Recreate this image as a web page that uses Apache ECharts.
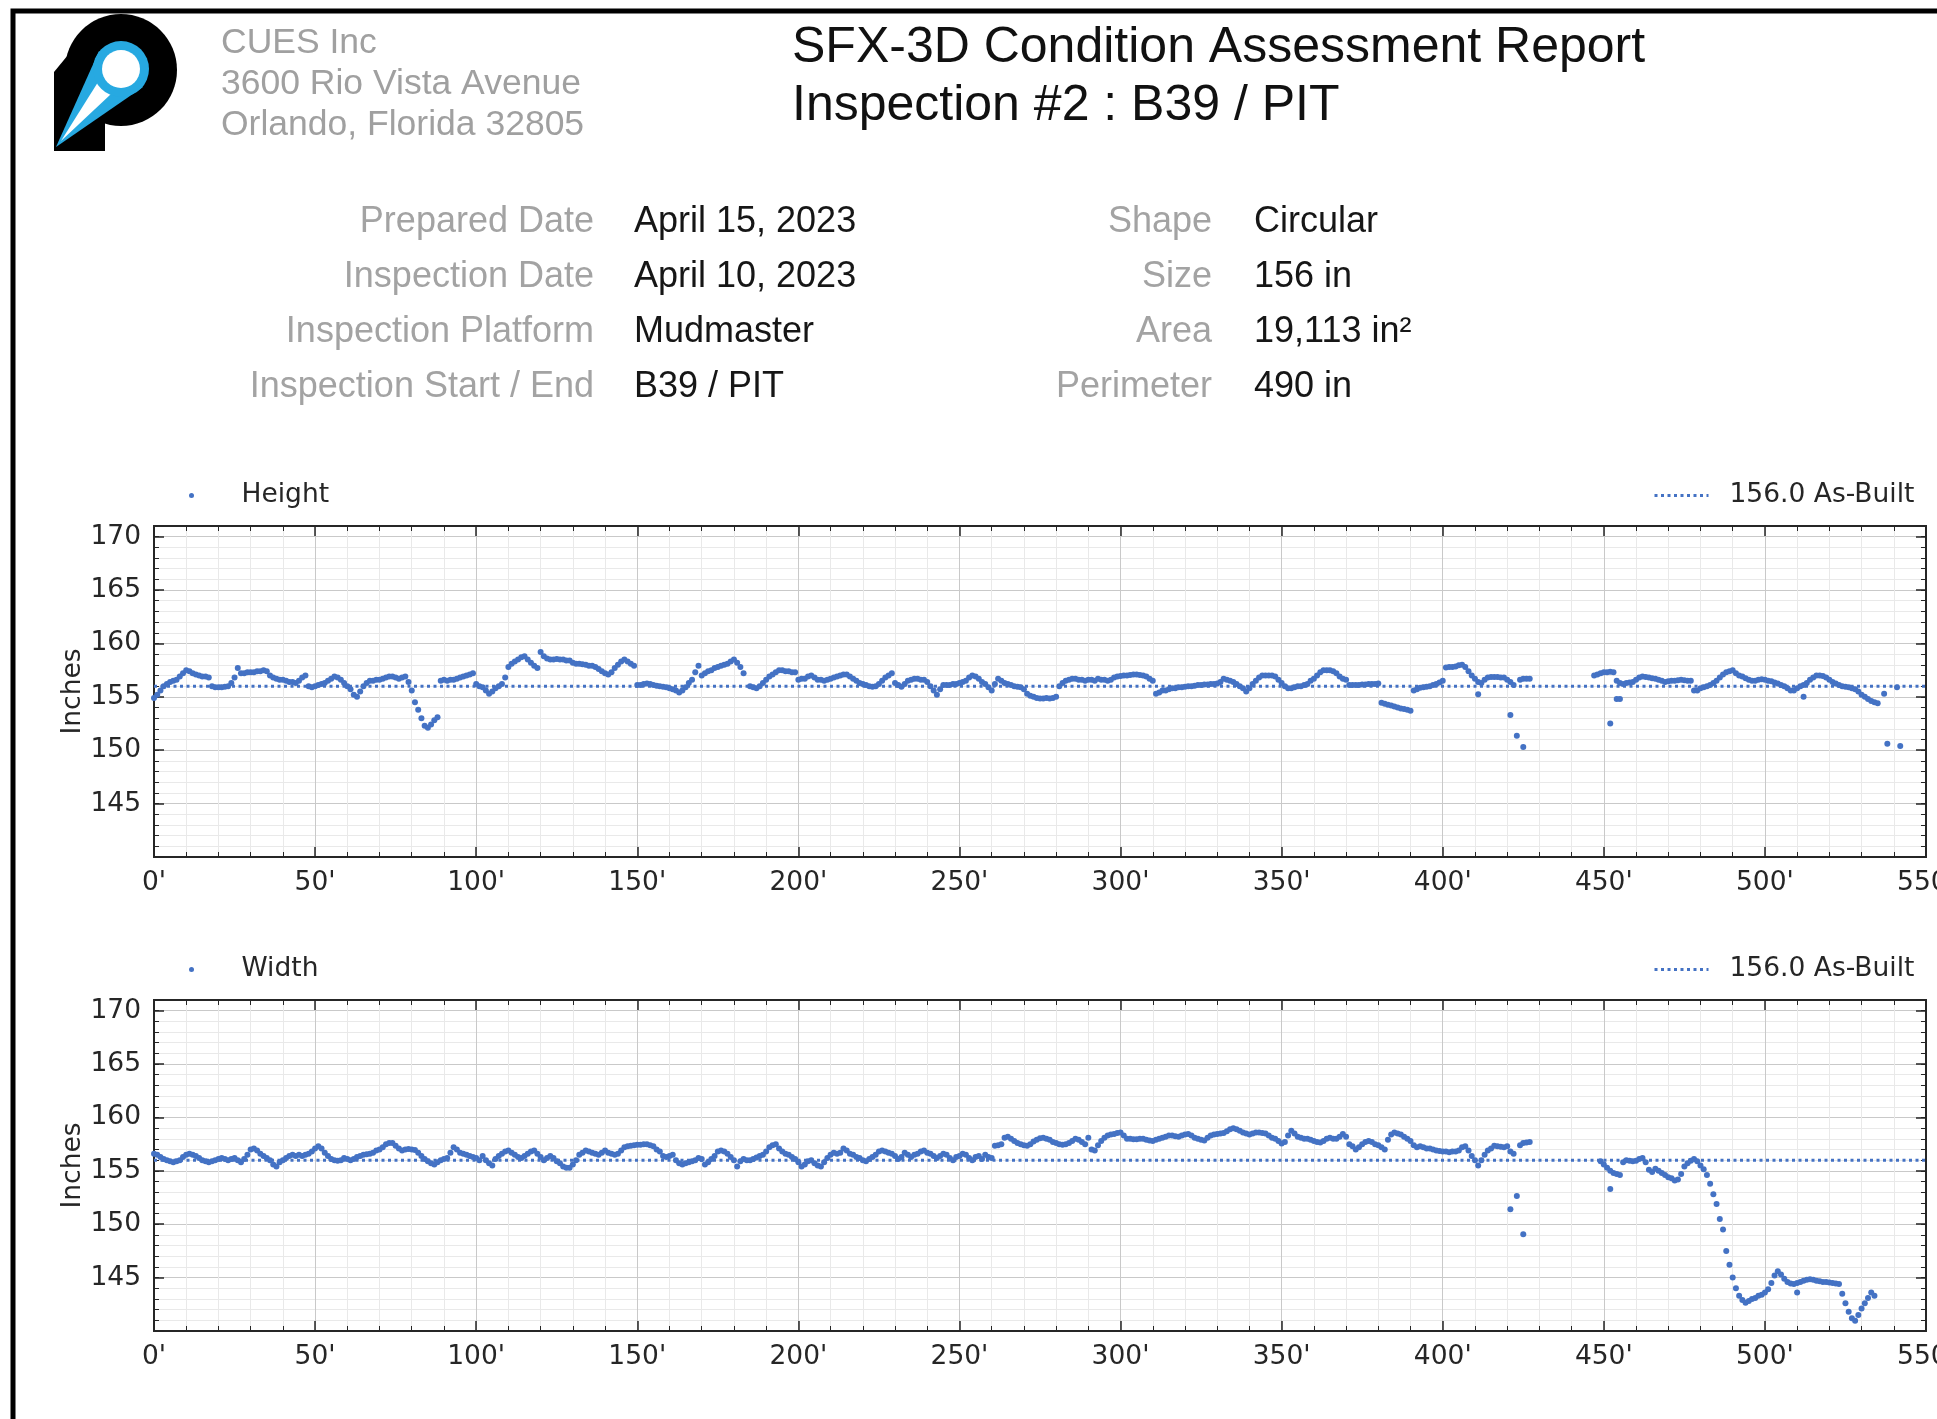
<!DOCTYPE html>
<html>
<head>
<meta charset="utf-8">
<title>SFX-3D Condition Assessment Report</title>
<script src="https://cdn.jsdelivr.net/npm/echarts@6/dist/echarts.min.js"></script>
<style>
  html, body { margin: 0; padding: 0; background: #ffffff; }
  #report { width: 1937px; height: 1419px; }
</style>
</head>
<body>
<div id="report"></div>
<script>
// ---------------- Report header text ----------------
const companyLines = ['CUES Inc', '3600 Rio Vista Avenue', 'Orlando, Florida 32805'];
const titleLines = ['SFX-3D Condition Assessment Report', 'Inspection #2 : B39 / PIT'];
const infoLabelsLeft = ['Prepared Date', 'Inspection Date', 'Inspection Platform', 'Inspection Start / End'];
const infoValuesLeft = ['April 15, 2023', 'April 10, 2023', 'Mudmaster', 'B39 / PIT'];
const infoLabelsRight = ['Shape', 'Size', 'Area', 'Perimeter'];
const infoValuesRight = ['Circular', '156 in', '19,113 in\u00B2', '490 in'];

// ---------------- Axis settings ----------------
const stationMin = 0, stationMax = 550, stationStep = 50;   // feet
const inchMin = 140, inchMax = 171, inchStep = 5;            // inches
const asBuiltSize = 156.0;
const asBuiltName = asBuiltSize.toFixed(1) + ' As-Built';
const seriesNames = ['Height', 'Width'];

// ---------------- Measurements (index = station in feet, null = no reading) ----------------
const heightValues = [
  154.9, 155.2, 155.6, 156.0, 156.2, 156.4, 156.5, 156.6, 156.9, 157.2,
  157.5, 157.4, 157.2, 157.1, 157.0, 156.9, 156.9, 156.8, 156.0, 155.9,
  155.9, 155.9, 155.95, 156.0, 156.3, 156.8, 157.7, 157.2, 157.2, 157.3,
  157.3, 157.3, 157.4, 157.4, 157.5, 157.4, 157.0, 156.8, 156.7, 156.6,
  156.6, 156.5, 156.4, 156.4, 156.3, 156.5, 156.8, 157.0, 156.0, 155.9,
  156.0, 156.1, 156.2, 156.3, 156.5, 156.7, 156.9, 156.8, 156.6, 156.3,
  156.0, 155.7, 155.2, 155.0, 155.5, 156.0, 156.3, 156.5, 156.5, 156.6,
  156.6, 156.7, 156.8, 156.9, 156.9, 156.8, 156.7, 156.8, 156.9, 156.4,
  155.6, 154.5, 153.8, 153.0, 152.3, 152.1, 152.4, 152.8, 153.1, 156.5,
  156.6, 156.5, 156.6, 156.6, 156.7, 156.8, 156.9, 157.0, 157.1, 157.2,
  156.2, 156.0, 155.9, 155.6, 155.3, 155.5, 155.8, 156.0, 156.2, 156.8,
  157.8, 158.1, 158.3, 158.5, 158.7, 158.8, 158.5, 158.2, 157.9, 157.7,
  159.2, 158.8, 158.6, 158.5, 158.5, 158.55, 158.5, 158.5, 158.4, 158.4,
  158.2, 158.1, 158.1, 158.05, 158.0, 157.9, 157.9, 157.8, 157.6, 157.4,
  157.2, 157.1, 157.3, 157.7, 158.0, 158.3, 158.5, 158.3, 158.1, 157.9,
  156.1, 156.1, 156.2, 156.25, 156.2, 156.1, 156.05, 156.0, 155.95, 155.9,
  155.8, 155.7, 155.6, 155.4, 155.6, 155.9, 156.3, 156.6, 157.3, 157.9,
  157.0, 157.2, 157.4, 157.5, 157.7, 157.8, 157.9, 158.0, 158.1, 158.3,
  158.5, 158.2, 157.8, 157.2, null, 156.0, 155.9, 155.8, 156.0, 156.3,
  156.6, 156.9, 157.1, 157.3, 157.5, 157.5, 157.4, 157.4, 157.3, 157.3,
  156.6, 156.7, 156.7, 156.9, 157.0, 156.8, 156.6, 156.6, 156.5, 156.6,
  156.7, 156.8, 156.9, 157.0, 157.1, 157.1, 156.9, 156.7, 156.5, 156.3,
  156.2, 156.1, 156.0, 155.95, 156.0, 156.2, 156.5, 156.8, 157.0, 157.2,
  156.3, 156.1, 155.95, 156.2, 156.5, 156.6, 156.7, 156.7, 156.6, 156.6,
  156.4, 156.0, 155.6, 155.2, 155.7, 156.1, 156.1, 156.1, 156.2, 156.2,
  156.3, 156.4, 156.5, 156.8, 157.0, 156.9, 156.7, 156.4, 156.2, 155.9,
  155.6, 156.2, 156.7, 156.5, 156.3, 156.2, 156.1, 156.0, 155.95, 155.9,
  155.7, 155.3, 155.1, 155.0, 154.9, 154.85, 154.85, 154.9, 154.85, 154.9,
  155.0, 156.0, 156.3, 156.5, 156.6, 156.7, 156.7, 156.6, 156.6, 156.5,
  156.6, 156.6, 156.5, 156.7, 156.6, 156.6, 156.5, 156.6, 156.8, 156.9,
  156.95, 157.0, 157.0, 157.05, 157.1, 157.1, 157.05, 157.0, 156.9, 156.7,
  156.5, 155.3, 155.4, 155.6, 155.6, 155.7, 155.8, 155.8, 155.9, 155.9,
  155.95, 156.0, 156.0, 156.05, 156.1, 156.1, 156.15, 156.15, 156.2, 156.2,
  156.25, 156.4, 156.7, 156.6, 156.5, 156.4, 156.2, 156.0, 155.8, 155.5,
  155.8, 156.2, 156.5, 156.8, 157.0, 157.0, 157.0, 157.0, 156.9, 156.6,
  156.3, 156.0, 155.8, 155.8, 155.9, 156.0, 156.0, 156.1, 156.2, 156.5,
  156.7, 157.0, 157.3, 157.5, 157.5, 157.5, 157.4, 157.2, 156.9, 156.7,
  156.6, 156.1, 156.1, 156.1, 156.1, 156.15, 156.15, 156.2, 156.2, 156.2,
  156.25, 154.45, 154.35, 154.25, 154.2, 154.1, 154.0, 153.9, 153.85, 153.8,
  153.7, 155.6, 155.7, 155.85, 155.9, 155.95, 156.0, 156.1, 156.2, 156.35,
  156.5, 157.75, 157.8, 157.8, 157.85, 157.95, 158.0, 157.8, 157.4, 157.0,
  156.7, 156.4, 156.3, 156.6, 156.8, 156.85, 156.85, 156.85, 156.8, 156.8,
  156.6, 156.4, 156.1, null, 156.6, 156.7, 156.7, 156.7, null, null,
  null, null, null, null, null, null, null, null, null, null,
  null, null, null, null, null, null, null, 157.0, 157.1, 157.2,
  157.3, 157.3, 157.35, 157.3, 156.5, 156.3, 156.2, 156.3, 156.35, 156.4,
  156.6, 156.8, 156.9, 156.85, 156.8, 156.75, 156.7, 156.6, 156.5, 156.4,
  156.45, 156.5, 156.5, 156.55, 156.6, 156.55, 156.5, 156.5, 155.6, 155.6,
  155.8, 155.9, 156.0, 156.1, 156.3, 156.5, 156.8, 157.1, 157.3, 157.4,
  157.5, 157.2, 157.0, 156.9, 156.75, 156.6, 156.5, 156.5, 156.6, 156.65,
  156.6, 156.5, 156.45, 156.35, 156.25, 156.1, 156.0, 155.8, 155.6, 155.6,
  155.8, 156.0, 156.1, 156.3, 156.6, 156.8, 157.0, 157.0, 156.95, 156.8,
  156.6, 156.4, 156.25, 156.1, 156.0, 155.95, 155.9, 155.8, 155.7, 155.5,
  155.2, 155.0, 154.8, 154.6, 154.5, 154.4
];
// Isolated readings that share a station with the main trace: [station ft, inches]
const heightStray = [
  [411, 155.25], [421, 153.3], [423, 151.35], [425, 150.3], [452, 152.5], [454, 154.8],
  [455, 154.8], [512, 155.0], [537, 155.3], [538, 150.6], [541, 155.9], [542, 150.4]
];

const widthValues = [
  156.6, 156.5, 156.3, 156.1, 156.0, 155.9, 155.8, 155.9, 156.0, 156.3,
  156.5, 156.6, 156.5, 156.4, 156.2, 156.0, 155.9, 155.8, 155.9, 156.0,
  156.1, 156.2, 156.1, 156.0, 156.1, 156.2, 156.0, 155.8, 156.1, 156.5,
  157.0, 157.1, 156.9, 156.6, 156.4, 156.2, 156.0, 155.6, 155.4, 155.8,
  156.0, 156.2, 156.4, 156.5, 156.4, 156.5, 156.4, 156.5, 156.6, 156.8,
  157.1, 157.3, 157.1, 156.7, 156.4, 156.1, 156.0, 155.95, 156.0, 156.2,
  156.1, 156.0, 156.1, 156.3, 156.4, 156.5, 156.55, 156.6, 156.7, 156.9,
  157.0, 157.2, 157.5, 157.6, 157.6, 157.35, 157.1, 156.9, 157.0, 157.05,
  157.0, 156.95, 156.7, 156.4, 156.1, 155.9, 155.7, 155.6, 155.8, 156.0,
  156.1, 156.2, 156.7, 157.2, 157.0, 156.7, 156.6, 156.5, 156.4, 156.3,
  156.2, 156.0, 156.4, 156.0, 155.7, 155.5, 156.1, 156.4, 156.6, 156.8,
  156.9, 156.7, 156.5, 156.3, 156.2, 156.4, 156.6, 156.8, 156.9, 156.6,
  156.3, 156.0, 156.2, 156.4, 156.2, 155.9, 155.7, 155.4, 155.3, 155.3,
  155.6, 156.0, 156.5, 156.7, 156.9, 156.8, 156.7, 156.6, 156.5, 156.7,
  156.9, 156.7, 156.6, 156.5, 156.6, 156.9, 157.2, 157.3, 157.35, 157.4,
  157.45, 157.45, 157.5, 157.5, 157.4, 157.3, 157.0, 156.8, 156.4, 156.3,
  156.4, 156.5, 156.0, 155.7, 155.6, 155.7, 155.8, 155.9, 156.0, 156.2,
  156.1, 155.6, 155.8, 156.1, 156.4, 156.8, 156.9, 156.8, 156.6, 156.3,
  156.0, 155.4, 155.9, 156.1, 156.0, 156.0, 156.1, 156.25, 156.4, 156.5,
  156.8, 157.2, 157.4, 157.5, 157.1, 156.8, 156.6, 156.5, 156.3, 156.1,
  155.8, 155.4, 155.6, 155.9, 156.0, 155.7, 155.5, 155.4, 155.8, 156.2,
  156.5, 156.7, 156.6, 156.7, 157.1, 156.9, 156.6, 156.5, 156.3, 156.2,
  156.0, 155.9, 156.1, 156.3, 156.5, 156.8, 156.9, 156.8, 156.7, 156.6,
  156.4, 156.1, 156.3, 156.7, 156.5, 156.3, 156.5, 156.6, 156.8, 156.9,
  156.7, 156.6, 156.4, 156.2, 156.4, 156.6, 156.5, 156.2, 156.0, 156.3,
  156.4, 156.6, 156.5, 156.2, 156.0, 156.3, 156.4, 156.1, 156.5, 156.3,
  156.2, 157.35, 157.4, 157.5, 158.1, 158.2, 158.0, 157.8, 157.6, 157.5,
  157.4, 157.35, 157.5, 157.75, 157.9, 158.05, 158.1, 158.0, 157.9, 157.7,
  157.6, 157.5, 157.45, 157.5, 157.6, 157.8, 158.0, 157.9, 157.7, 157.5,
  158.1, 157.0, 156.9, 157.4, 157.8, 158.1, 158.3, 158.4, 158.45, 158.55,
  158.6, 158.3, 158.0, 158.0, 157.95, 157.95, 158.0, 158.0, 157.9, 157.85,
  157.8, 157.9, 158.0, 158.1, 158.2, 158.3, 158.3, 158.25, 158.2, 158.3,
  158.4, 158.45, 158.3, 158.1, 158.0, 157.9, 157.85, 158.1, 158.3, 158.4,
  158.45, 158.5, 158.55, 158.7, 158.9, 159.0, 158.9, 158.75, 158.6, 158.5,
  158.4, 158.5, 158.6, 158.6, 158.55, 158.5, 158.3, 158.1, 158.0, 157.8,
  157.55, 157.7, 158.3, 158.75, 158.5, 158.2, 158.1, 158.0, 158.0, 157.9,
  157.8, 157.7, 157.65, 157.8, 158.0, 158.1, 158.0, 158.0, 158.2, 158.45,
  158.2, 157.5, 157.3, 157.0, 157.2, 157.5, 157.7, 157.8, 157.7, 157.5,
  157.4, 157.2, 157.0, 157.9, 158.4, 158.6, 158.5, 158.4, 158.2, 158.0,
  157.8, 157.4, 157.2, 157.3, 157.2, 157.1, 157.1, 157.0, 156.9, 156.85,
  156.8, 156.8, 156.75, 156.8, 156.8, 156.9, 157.2, 157.3, 156.9, 156.4,
  156.0, 155.5, 156.0, 156.5, 156.9, 157.1, 157.35, 157.3, 157.25, 157.2,
  157.3, 156.8, 156.6, null, 157.4, 157.6, 157.65, 157.7, null, null,
  null, null, null, null, null, null, null, null, null, null,
  null, null, null, null, null, null, null, null, null, 155.9,
  155.6, 155.3, 155.0, 154.8, 154.7, 154.6, 155.8, 156.0, 155.95, 155.9,
  155.95, 156.1, 156.2, 155.8, 155.1, 154.9, 155.2, 155.0, 154.8, 154.6,
  154.4, 154.3, 154.1, 154.2, 154.7, 155.4, 155.7, 155.95, 156.1, 155.9,
  155.5, 155.15, 154.6, 153.8, 152.8, 151.9, 150.5, 149.5, 147.5, 146.2,
  145.0, 144.0, 143.3, 142.9, 142.65, 142.8, 143.0, 143.1, 143.3, 143.4,
  143.6, 143.9, 144.5, 145.2, 145.6, 145.3, 144.9, 144.6, 144.45, 144.4,
  144.5, 144.6, 144.7, 144.8, 144.85, 144.8, 144.7, 144.65, 144.6, 144.6,
  144.55, 144.5, 144.45, 144.4, 143.5, 142.6, 141.8, 141.2, 140.95, 141.5,
  142.1, 142.6, 143.1, 143.6, 143.3
];
const widthStray = [
  [421, 151.4], [423, 152.65], [425, 149.05], [452, 153.3], [510, 143.6]
];

// ---------------- Styling ----------------
const MARK_BLUE = '#4472c4';
const LOGO_BLUE = '#27a9e1';
const AXIS_DARK = '#262626';
const GRID_MAJOR = '#c9c9c9';
const GRID_MINOR = '#e9e9e9';
const CHART_FONT = '"DejaVu Sans", Verdana, sans-serif';
const CHART_SIZE = 26.5;
const HEAD_FONT = '"Liberation Sans", Arial, Helvetica, sans-serif';

const panelTops = [526, 1000];
const panelHeight = 331;

function toPoints(values, stray) {
  const pts = [];
  values.forEach((v, ft) => { if (v !== null) pts.push([ft, v]); });
  stray.forEach(p => pts.push(p));
  return pts;
}

function inchLabel(v) {
  return (v % inchStep === 0 && v > inchMin && v < inchMax) ? String(v) : '';
}

const frameLine = { show: true, onZero: false, lineStyle: { color: AXIS_DARK, width: 2 } };
const chartText = { fontSize: CHART_SIZE, color: AXIS_DARK, fontFamily: CHART_FONT };

const grids = [], xAxes = [], yAxes = [], series = [], legends = [];

panelTops.forEach((top, g) => {
  grids.push({ left: 154, right: 11, top: top, height: panelHeight,
    containLabel: false, outerBoundsMode: 'none' });

  // bottom station axis (labels, grid lines) and top mirror (ticks only)
  xAxes.push({
    type: 'value', gridIndex: g, position: 'bottom',
    min: stationMin, max: stationMax, interval: stationStep,
    axisLine: frameLine,
    axisTick: { show: true, inside: true, length: 10, lineStyle: { color: AXIS_DARK, width: 1.5 } },
    minorTick: { show: true, splitNumber: 5, length: 5, lineStyle: { color: AXIS_DARK, width: 1 } },
    axisLabel: Object.assign({ formatter: v => v + "'", margin: 13 }, chartText),
    splitLine: { show: true, lineStyle: { color: GRID_MAJOR, width: 1 } },
    minorSplitLine: { show: true, lineStyle: { color: GRID_MINOR, width: 1 } }
  });
  xAxes.push({
    type: 'value', gridIndex: g, position: 'top',
    min: stationMin, max: stationMax, interval: stationStep,
    axisLine: frameLine,
    axisTick: { show: true, inside: true, length: 10, lineStyle: { color: AXIS_DARK, width: 1.5 } },
    minorTick: { show: true, splitNumber: 5, length: 5, lineStyle: { color: AXIS_DARK, width: 1 } },
    axisLabel: { show: false },
    splitLine: { show: false }
  });

  // left: 1-inch axis carrying grid lines + labels, 5-inch axis for long ticks; right: mirrors
  ['left', 'right'].forEach(side => {
    yAxes.push({
      type: 'value', gridIndex: g, position: side,
      min: inchMin, max: inchMax, interval: 1,
      name: side === 'left' ? 'Inches' : '',
      nameLocation: 'middle', nameGap: 67, nameMoveOverlap: false,
      nameTextStyle: chartText,
      axisLine: frameLine,
      axisTick: { show: true, inside: true, length: 5, lineStyle: { color: AXIS_DARK, width: 1 } },
      axisLabel: side === 'left'
        ? Object.assign({ formatter: inchLabel, margin: 13 }, chartText)
        : { show: false },
      splitLine: side === 'left'
        ? { show: true, lineStyle: { color: [GRID_MAJOR, GRID_MINOR, GRID_MINOR, GRID_MINOR, GRID_MINOR], width: 1 } }
        : { show: false }
    });
    yAxes.push({
      type: 'value', gridIndex: g, position: side,
      min: inchMin, max: inchMax, interval: inchStep,
      axisLine: frameLine,
      axisTick: { show: true, inside: true, length: 10, lineStyle: { color: AXIS_DARK, width: 1.5 } },
      axisLabel: { show: false },
      splitLine: { show: false }
    });
  });

  const values = g === 0 ? heightValues : widthValues;
  const stray = g === 0 ? heightStray : widthStray;

  series.push({
    name: seriesNames[g], type: 'scatter', xAxisIndex: 2 * g, yAxisIndex: 4 * g,
    data: toPoints(values, stray),
    symbol: 'circle', symbolSize: 6,
    itemStyle: { color: MARK_BLUE, opacity: 1 },
    z: 4, silent: true
  });
  series.push({
    name: asBuiltName, type: 'line', xAxisIndex: 2 * g, yAxisIndex: 4 * g,
    data: [[stationMin, asBuiltSize], [stationMax, asBuiltSize]],
    symbol: 'none',
    lineStyle: { color: MARK_BLUE, width: 3, type: [3, 3.5] },
    itemStyle: { color: MARK_BLUE },
    z: 3, silent: true
  });

  const legendTop = top - 49;
  legends.push({
    data: [seriesNames[g]], left: 184, top: legendTop,
    icon: 'circle', itemWidth: 90, itemHeight: 5,
    selectedMode: false,
    textStyle: chartText
  });
  legends.push({
    data: [asBuiltName], left: 1648, top: legendTop,
    itemWidth: 54, itemHeight: 14,
    selectedMode: false,
    itemStyle: { opacity: 0 },
    lineStyle: { color: MARK_BLUE, width: 3, type: [3, 3.5] },
    textStyle: Object.assign({ padding: [0, 0, 0, 16] }, chartText)
  });
});

// ---------------- Header graphics ----------------
const graphics = [];
// page frame (top and left edge of the sheet)
graphics.push({ type: 'polyline', shape: { points: [[13, 1440], [13, 11], [1950, 11]] },
  style: { stroke: '#000', lineWidth: 5, fill: null } });

// company logo: black "P" with a blue pipe
graphics.push({ type: 'circle', shape: { cx: 121, cy: 70, r: 56 }, style: { fill: '#000' } });
graphics.push({ type: 'polygon', shape: { points: [[54, 72], [68, 55], [105, 100], [105, 151], [54, 151]] }, style: { fill: '#000' } });
graphics.push({ type: 'polygon', shape: { points: [[56, 147], [99, 51], [143, 87]] }, style: { fill: LOGO_BLUE } });
graphics.push({ type: 'polygon', shape: { points: [[61, 141], [110, 63], [128, 78]] }, style: { fill: '#fff' } });
graphics.push({ type: 'circle', shape: { cx: 121, cy: 69, r: 28 }, style: { fill: LOGO_BLUE } });
graphics.push({ type: 'circle', shape: { cx: 121, cy: 69, r: 19 }, style: { fill: '#fff' } });

companyLines.forEach((t, i) => {
  graphics.push({ type: 'text', x: 221, y: 43.5 + i * 40.8,
    style: { text: t, font: '35.5px ' + HEAD_FONT, fill: '#a0a0a0', align: 'left', verticalAlign: 'middle' } });
});
titleLines.forEach((t, i) => {
  graphics.push({ type: 'text', x: 792, y: 48.5 + i * 58,
    style: { text: t, font: '50px ' + HEAD_FONT, fill: '#111', align: 'left', verticalAlign: 'middle' } });
});
infoLabelsLeft.forEach((t, i) => {
  const y = 222.5 + i * 55;
  graphics.push({ type: 'text', x: 594, y: y,
    style: { text: t, font: '36px ' + HEAD_FONT, fill: '#a3a3a3', align: 'right', verticalAlign: 'middle' } });
  graphics.push({ type: 'text', x: 634, y: y,
    style: { text: infoValuesLeft[i], font: '36px ' + HEAD_FONT, fill: '#161616', align: 'left', verticalAlign: 'middle' } });
  graphics.push({ type: 'text', x: 1212, y: y,
    style: { text: infoLabelsRight[i], font: '36px ' + HEAD_FONT, fill: '#a3a3a3', align: 'right', verticalAlign: 'middle' } });
  graphics.push({ type: 'text', x: 1254, y: y,
    style: { text: infoValuesRight[i], font: '36px ' + HEAD_FONT, fill: '#161616', align: 'left', verticalAlign: 'middle' } });
});

const chart = echarts.init(document.getElementById('report'), null, { renderer: 'canvas', width: 1937, height: 1419 });
chart.setOption({
  animation: false,
  backgroundColor: '#ffffff',
  grid: grids,
  xAxis: xAxes,
  yAxis: yAxes,
  legend: legends,
  series: series,
  graphic: graphics
});
</script>
</body>
</html>
